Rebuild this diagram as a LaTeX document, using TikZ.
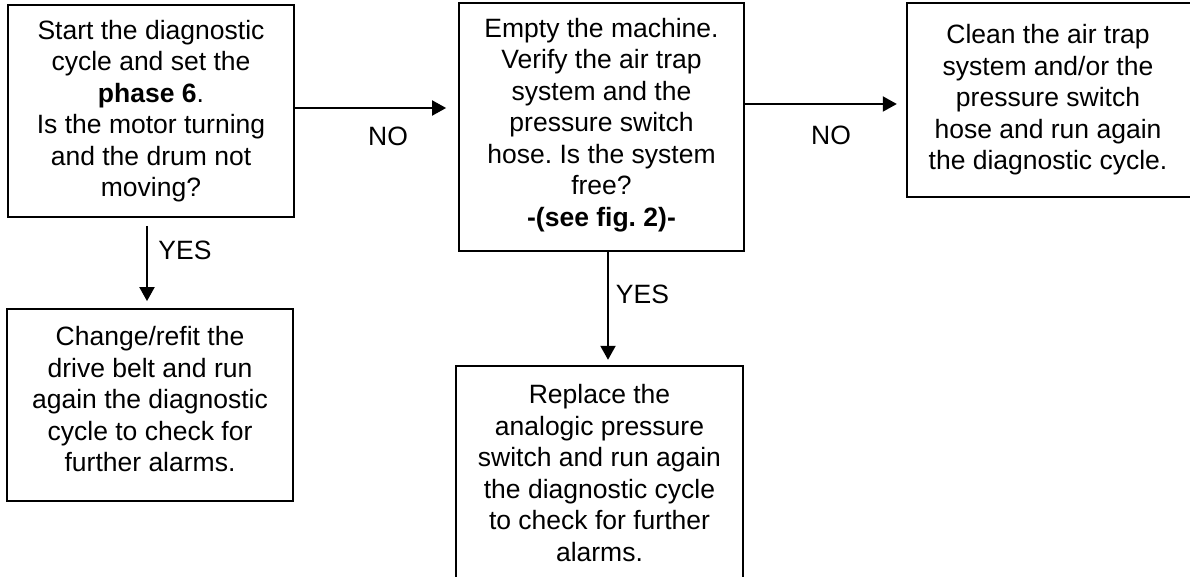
\documentclass[tikz,border=0pt]{standalone}
\usepackage{fontspec}
\setmainfont{Liberation Sans}
\usetikzlibrary{arrows.meta,calc}
\frenchspacing
\begin{document}
\begin{tikzpicture}[x=1pt,y=-1pt,
  box/.style={draw, line width=1.8pt, align=center, inner sep=0pt,
    font=\fontsize{26.5}{31.5}\selectfont},
  txtbox/.style={align=center, inner sep=0pt, font=\fontsize{26.5}{31.5}\selectfont},
  lbl/.style={inner sep=0pt, font=\fontsize{26.5}{31.5}\selectfont},
  outline/.style={line width=1.8pt},
  arr/.style={line width=2pt, -{Triangle[length=14pt,width=15pt]}}]
\useasboundingbox (0,0) rectangle (1190,577);
\clip (0,0) rectangle (1190,577);
\fill[white] (0,0) rectangle (1190,577);

\node[box, minimum width=286pt, minimum height=212pt] (A) at (151,111)
  {\frenchspacing Start the diagnostic\\cycle and set the\\\textbf{phase 6}.\\Is the motor turning\\and the drum not\\moving?};

\node[box, minimum width=285pt, minimum height=248pt] (B) at (601.5,127)
  {\frenchspacing Empty the machine.\\Verify the air trap\\system and the\\pressure switch\\hose. Is the system\\free?\\\textbf{-(see fig. 2)-}\rule[-10pt]{0pt}{10pt}};

\node[txtbox, minimum width=282pt, minimum height=194pt] (C) at (1048,100)
  {\frenchspacing Clean the air trap\\system and/or the\\pressure switch\\hose and run again\\the diagnostic cycle.};
\draw[outline] ([xshift=6pt]C.north east) -- (C.north west) -- (C.south west) -- ([xshift=6pt]C.south east);

\node[box, minimum width=286pt, minimum height=192pt] (D) at (150,405)
  {\frenchspacing Change/refit the\\drive belt and run\\again the diagnostic\\cycle to check for\\further alarms.\rule[-12pt]{0pt}{12pt}};

\node[txtbox, minimum width=287pt, minimum height=214pt] (E) at (599.5,473)
  {\frenchspacing Replace the\\analogic pressure\\switch and run again\\the diagnostic cycle\\to check for further\\alarms.};
\draw[outline] ([yshift=-12pt]E.south west) -- (E.north west) -- (E.north east) -- ([yshift=-12pt]E.south east);

\draw[arr, shorten >=12pt] ([yshift=3pt]A.east) -- ([yshift=3pt]A.east -| B.west);
\draw[arr, shorten >=10pt] ([yshift=-4pt]C.west -| B.east) -- ([yshift=-4pt]C.west);
\draw[arr, shorten <=8pt, shorten >=7pt] ([xshift=-4pt]A.south) -- ([xshift=-4pt]A.south |- D.north);
\draw[arr, shorten >=6pt] ([xshift=6.5pt]B.south) -- ([xshift=6.5pt]B.south |- E.north);

\node[lbl] (no1) at (388,136) {NO};
\node[lbl] (no2) at (831,135) {NO};
\node[lbl] (yes1) at (185,250) {YES};
\node[lbl] (yes2) at (642.5,294.5) {YES};
\end{tikzpicture}
\end{document}
